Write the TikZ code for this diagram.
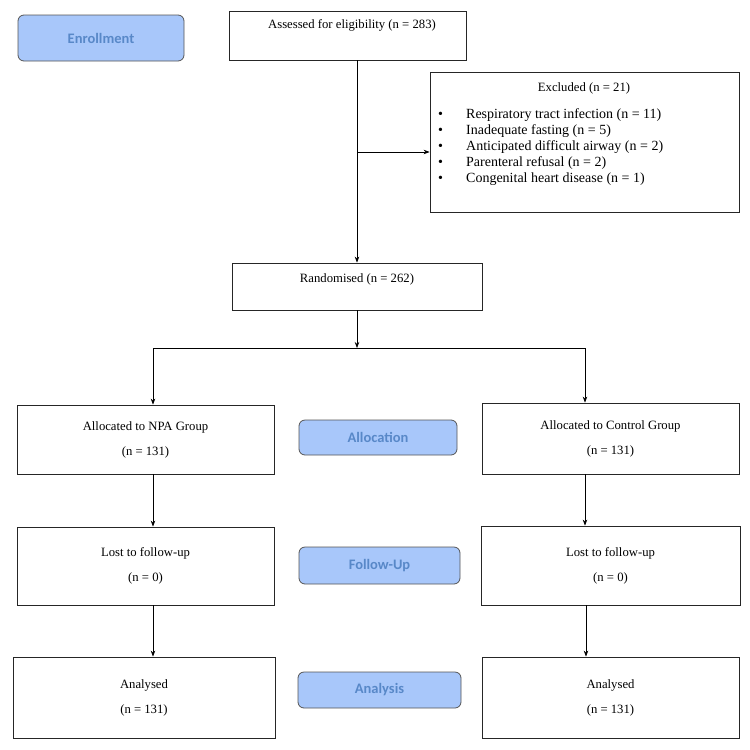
\documentclass[tikz,border=0pt]{standalone}
\usepackage{fontspec}
\setmainfont{Liberation Serif}
\newfontfamily\labfont{Carlito}
\usetikzlibrary{arrows.meta}
\definecolor{labfill}{RGB}{168,199,250}
\definecolor{labtext}{RGB}{88,136,200}
\definecolor{labedge}{RGB}{85,85,85}
\begin{document}
\begin{tikzpicture}[x=1pt,y=-1pt,
  box/.style={draw=black!85,line width=0.8pt,fill=white,inner sep=0pt,align=center,font=\fontsize{12.7}{16}\selectfont},
  stage/.style={draw=labedge,line width=0.8pt,fill=labfill,rounded corners=6pt,inner sep=0pt,font=\labfont\bfseries\fontsize{14.5}{16}\selectfont,text=labtext},
  txt/.style={inner sep=0pt,font=\fontsize{12.7}{16}\selectfont},
  listtxt/.style={inner sep=0pt,font=\fontsize{14}{16.1}\selectfont},
  conn/.style={line width=0.7pt,-{Stealth[length=6pt,width=4.5pt]}},
  plain/.style={line width=0.7pt}]
\useasboundingbox (0,0) rectangle (750,750);
% stage labels
\node[stage,minimum width=166,minimum height=46] (enroll) at (101,38) {Enrollment};
\node[stage,minimum width=158,minimum height=35] (alloc) at (378,437.5) {Allocation};
\node[stage,minimum width=161,minimum height=37] (follow) at (379.5,565.5) {Follow-Up};
\node[stage,minimum width=163,minimum height=36] (analysis) at (379.5,690) {Analysis};
% boxes
\node[box,minimum width=237,minimum height=49] (assess) at (347.5,35.5) {};
\node[txt] (assesstxt) at (352,25) {Assessed for eligibility (n = 283)};
\node[box,minimum width=309,minimum height=140] (excl) at (584.5,142) {};
\node[txt] (excltitle) at (584,88) {Excluded (n = 21)};
\node[listtxt,anchor=north west,align=left] (excllist) at (438,108) {%
\makebox[28pt][l]{\textbullet}Respiratory tract infection (n = 11)\\
\makebox[28pt][l]{\textbullet}Inadequate fasting (n = 5)\\
\makebox[28pt][l]{\textbullet}Anticipated difficult airway (n = 2)\\
\makebox[28pt][l]{\textbullet}Parenteral refusal (n = 2)\\
\makebox[28pt][l]{\textbullet}Congenital heart disease (n = 1)};
\node[box,minimum width=250,minimum height=47] (rand) at (357,286.5) {};
\node[txt] (randtxt) at (357,279) {Randomised (n = 262)};
\node[box,minimum width=257,minimum height=69] (npa) at (145.5,439.5) {Allocated to NPA Group\\[9pt](n = 131)};
\node[box,minimum width=257,minimum height=71] (ctrl) at (610.5,438.5) {Allocated to Control Group\\[9pt](n = 131)};
\node[box,minimum width=257,minimum height=78] (lostL) at (145.5,566) {Lost to follow-up\\[9pt](n = 0)};
\node[box,minimum width=259,minimum height=79] (lostR) at (610.5,565.5) {Lost to follow-up\\[9pt](n = 0)};
\node[box,minimum width=262,minimum height=81] (anaL) at (144,697.5) {Analysed\\[9pt](n = 131)};
\node[box,minimum width=257,minimum height=81] (anaR) at (610.5,697.5) {Analysed\\[9pt](n = 131)};
% connectors
\coordinate (exbr) at (357,152);
\coordinate (split) at (357,348);
\coordinate (bl) at (153,348);
\coordinate (brr) at (585,348);
\coordinate (rcol) at (586,348);
\draw[conn] (rand.north |- assess.south) -- (rand.north);
\draw[conn] (exbr) -- (excl.west |- exbr);
\draw[conn] (rand.south) -- (split);
\draw[plain] (bl) -- (brr);
\draw[conn] (bl) -- (bl |- npa.north);
\draw[conn] (brr) -- (brr |- ctrl.north);
\draw[conn] (npa.south -| bl) -- (lostL.north -| bl);
\draw[conn] (ctrl.south -| brr) -- (lostR.north -| brr);
\draw[conn] (lostL.south -| bl) -- (anaL.north -| bl);
\draw[conn] (lostR.south -| rcol) -- (anaR.north -| rcol);
\end{tikzpicture}
\end{document}
